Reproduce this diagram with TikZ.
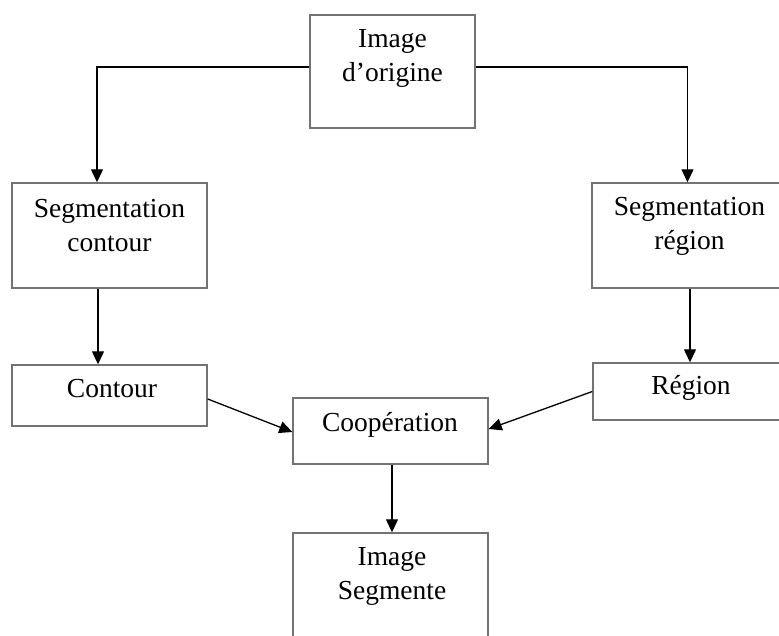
\documentclass[tikz,border=0pt]{standalone}
\usepackage{fontspec}
\setmainfont{Liberation Serif}
\usetikzlibrary{arrows.meta}
\begin{document}
\begin{tikzpicture}[x=1pt,y=1pt,
  box/.style={draw=black!55,line width=1.4pt,rectangle,inner sep=0pt},
  lbl/.style={align=center,inner sep=0pt,font=\fontsize{27.5}{34}\selectfont},
  arr/.style={draw=black,line width=1.3pt,-{Triangle[length=13pt,width=12pt]}},
  ln/.style={draw=black,line width=1.3pt}]
\clip (0,0) rectangle (779,635);
\fill[white] (0,0) rectangle (779,635);
% boxes
\node[box,minimum width=165,minimum height=113] (orig) at (392.5,563.5) {};
\node[box,minimum width=195,minimum height=105] (segc) at (109.5,399.5) {};
\node[box,minimum width=195,minimum height=105] (segr) at (689.5,399.5) {};
\node[box,minimum width=195,minimum height=61] (contour) at (109.5,239.5) {};
\node[box,minimum width=195,minimum height=57] (region) at (690.5,243.5) {};
\node[box,minimum width=195,minimum height=66] (coop) at (390.5,204) {};
\node[box,minimum width=195,minimum height=112] (seg) at (390.5,46) {};
% labels
\node[lbl] (origt) at (392.5,577) {Image\\d’origine};
\node[lbl] (segct) at (109.5,409) {Segmentation\\contour};
\node[lbl] (segrt) at (689.5,409) {Segmentation\\région};
\node[lbl] (contourt) at (112,246) {Contour};
\node[lbl] (regiont) at (691,247) {Région};
\node[lbl] (coopt) at (390,210) {Coopération};
\node[lbl] (segt) at (392,58.5) {Image\\Segmente};
% connectors
\draw[arr] ([yshift=4.5]orig.west) -| ([xshift=-12.5]segc.north);
\draw[arr] ([yshift=4.5]orig.east) -| ([xshift=-2]segr.north);
\draw[arr] ([xshift=-11.5]segc.south) -- ([xshift=-11.5]contour.north);
\draw[arr] ([xshift=0.5]segr.south) -- ([xshift=-0.5]region.north);
\draw[arr] ([yshift=-3.5]contour.east) -- ([yshift=-1]coop.west);
\draw[arr] (region.west) -- ([yshift=2]coop.east);
\draw[arr] ([xshift=1.5]coop.south) -- ([xshift=1.5]seg.north);
\end{tikzpicture}
\end{document}
